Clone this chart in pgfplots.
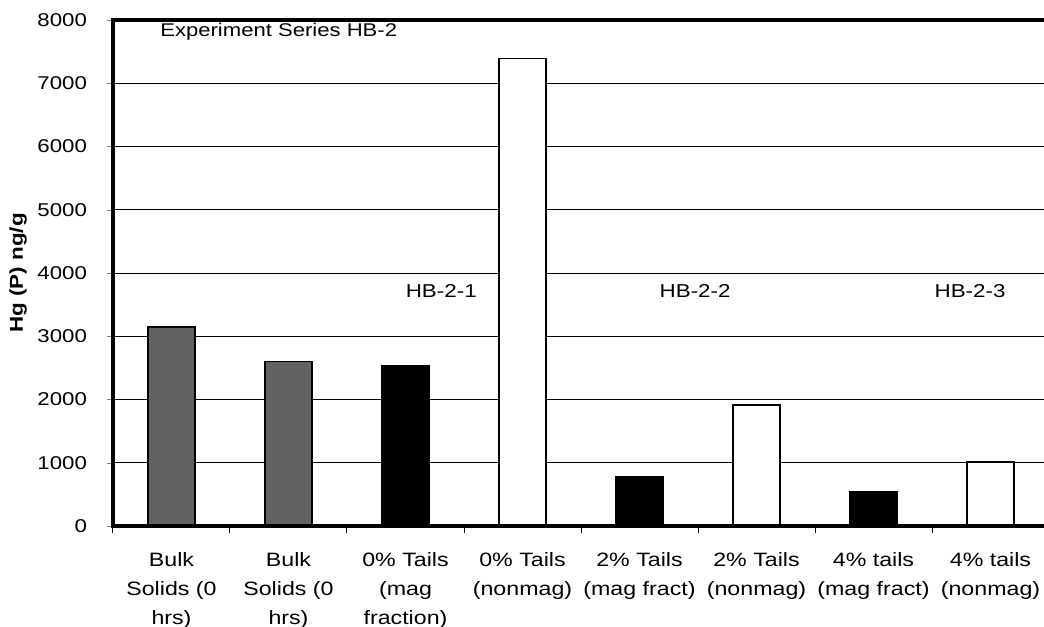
\documentclass[border=0pt]{standalone}
\usepackage{fontspec}
\setmainfont[FakeStretch=1.2]{Liberation Sans}
\usepackage{pgfplots}
\pgfplotsset{compat=1.18}
\usetikzlibrary{patterns}

\newcommand{\ytfont}{\fontsize{13.9}{16}\selectfont}
\newcommand{\catfont}{\fontsize{14.5}{21.5}\selectfont}

\begin{document}
\begin{tikzpicture}
\begin{axis}[
    at={(0,0)}, anchor=south west,
    scale only axis,
    width=702pt, height=379.5pt,
    xmin=-0.5, xmax=7.5,
    ymin=0, ymax=8000,
    axis line style={line width=3.3pt},
    xtick={0,...,7},
    xticklabels={{Bulk\\Solids (0\\hrs)},{Bulk\\Solids (0\\hrs)},{0\% Tails\\(mag\\fraction)},
        {0\% Tails\\(nonmag)},{2\% Tails\\(mag fract)},{2\% Tails\\(nonmag)},
        {4\% tails\\(mag fract)},{4\% tails\\(nonmag)}},
    xticklabel style={align=center, font=\catfont, anchor=north, yshift=-12pt},
    minor xtick={-0.5,0.5,...,7.5},
    major x tick style={draw=none},
    minor x tick style={draw=black, line width=0.75pt},
    minor tick length=5pt,
    xtick pos=bottom, ytick pos=left,
    tick align=outside,
    ytick={0,1000,2000,3000,4000,5000,6000,7000,8000},
    yticklabels={{0},{1000},{2000},{3000},{4000},{5000},{6000},{7000},{8000}},
    yticklabel style={align=right, font=\ytfont, anchor=east, xshift=-11.5pt},
    major tick length=4.5pt,
    ymajorgrids,
    grid style={black, line width=0.75pt},
    every axis y label/.style={at={(rel axis cs:-0.1015,0.5)}, rotate=90, anchor=center},
    ylabel={\fontsize{14}{16}\selectfont\bfseries Hg (P) ng/g},
    ybar, bar width=35.25pt, bar shift=0pt,
    clip=false,
]
\addplot[draw=black, line width=1.2pt, fill=black!60,
    postaction={pattern=crosshatch dots, pattern color=black!75}]
    coordinates {(0,3150) (1,2600)};
\addplot[draw=black, line width=1.2pt, fill=black]
    coordinates {(2,2530) (4,780) (6,540)};
\addplot[draw=black, line width=1.2pt, fill=white]
    coordinates {(3,7390) (5,1910) (7,1015)};

\node[anchor=base west, inner sep=0pt]
    at (axis cs:-0.098,7747) {\fontsize{13.8}{15}\selectfont Experiment Series HB-2};
\node[anchor=base west, inner sep=0pt]
    at (axis cs:2.0,3605) {\fontsize{14}{17}\selectfont HB-2-1};
\node[anchor=base west, inner sep=0pt]
    at (axis cs:4.17,3605) {\fontsize{14}{17}\selectfont HB-2-2};
\node[anchor=base west, inner sep=0pt]
    at (axis cs:6.52,3605) {\fontsize{14}{17}\selectfont HB-2-3};

\draw[line width=3.3pt] (rel axis cs:0,1) -- (rel axis cs:0,0) -- (rel axis cs:1,0);
\draw[line width=3.3pt] (rel axis cs:0,1) -- (rel axis cs:1,1);
\end{axis}
\pgfresetboundingbox
\useasboundingbox (-84.75pt,-75pt) rectangle (698.25pt,394.5pt);
\end{tikzpicture}
\end{document}
